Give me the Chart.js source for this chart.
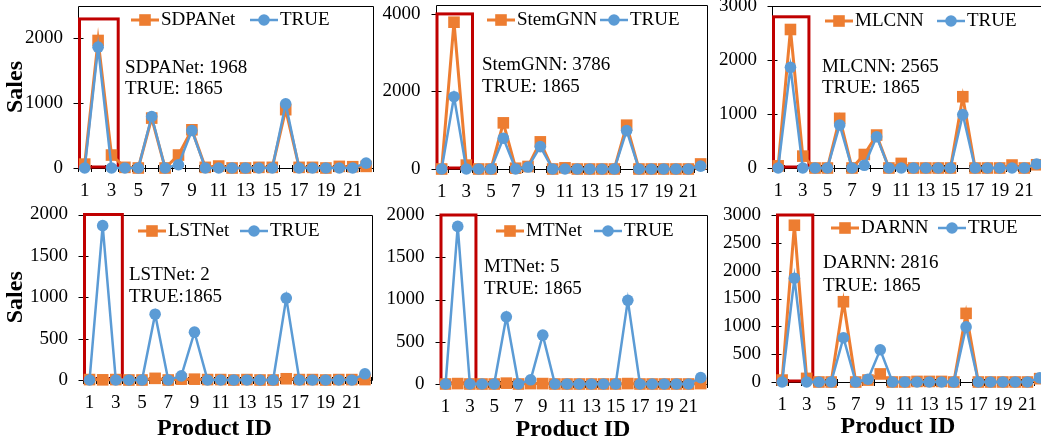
<!DOCTYPE html>
<html>
<head>
<meta charset="utf-8">
<script src="https://cdn.jsdelivr.net/npm/chart.js@4.4.1/dist/chart.umd.min.js"></script>
<style>
  html, body { margin: 0; padding: 0; background: #fff; }
  #stage { position: relative; width: 1041px; height: 444px; overflow: hidden; }
  #stage canvas { position: absolute; }
</style>
</head>
<body>
<div id="stage"></div>
<script>
// data
const PRODUCT_IDS   = ["1","2","3","4","5","6","7","8","9","10","11","12","13","14","15","16","17","18","19","20","21","22"];
const TRUE_SALES    = [0, 1865, 0, 0, 0, 795, 0, 50, 578, 0, 0, 0, 0, 0, 0, 990, 0, 0, 0, 0, 0, 75];
const SDPANET_PRED  = [60, 1968, 200, 10, 0, 770, 0, 200, 590, 10, 30, 0, 0, 10, 10, 900, 10, 10, 0, 25, 20, 25];
const STEMGNN_PRED  = [0, 3786, 100, 0, 0, 1190, 20, 65, 700, 0, 30, 0, 0, 0, 0, 1130, 0, 0, 0, 0, 0, 130];
const MLCNN_PRED    = [40, 2565, 220, 0, 0, 920, 0, 250, 610, 0, 85, 0, 0, 0, 0, 1320, 0, 0, 0, 55, 0, 60];
const LSTNET_PRED   = [5, 2, 5, 0, 0, 20, 0, 10, 10, 5, 5, 0, 5, 0, 0, 15, 5, 5, 0, 5, 5, 5];
const MTNET_PRED    = [0, 5, 0, 0, 0, 10, 0, 5, 5, 0, 0, 0, 0, 0, 0, 5, 0, 0, 0, 0, 0, 5];
const DARNN_PRED    = [35, 2816, 65, 0, 0, 1442, 0, 35, 145, 0, 0, 10, 10, 10, 0, 1233, 0, 0, 0, 0, 0, 60];

const SDPANET_Y_TICKS = [0, 1000, 2000];
const STEMGNN_Y_TICKS = [0, 2000, 4000];
const MLCNN_Y_TICKS   = [0, 1000, 2000, 3000];
const LSTNET_Y_TICKS  = [0, 500, 1000, 1500, 2000];
const MTNET_Y_TICKS   = [0, 500, 1000, 1500, 2000];
const DARNN_Y_TICKS   = [0, 500, 1000, 1500, 2000, 2500, 3000];

const ORANGE = "#ED7D31";
const BLUE   = "#5B9BD5";
const RED    = "#C00000";
const SERIF  = "'Liberation Serif', 'Times New Roman', serif";

// layout (page pixels)
const PANELS = [
    { name: "SDPANet", pred: SDPANET_PRED, yTicks: SDPANET_Y_TICKS, note: ["SDPANet: 1968", "TRUE: 1865"], yMax: 2500, boxTop: 2300,
      area: { l: 78, t: 6, r: 373, b: 168 }, origin: { x: 0, y: -25 }, rowBottom: 205,
      key: [131, 250], keyY: 20, noteAt: [125, 68, 89], sales: true },
    { name: "StemGNN", pred: STEMGNN_PRED, yTicks: STEMGNN_Y_TICKS, note: ["StemGNN: 3786", "TRUE: 1865"], yMax: 4230, boxTop: 4000,
      area: { l: 435.5, t: 5, r: 707, b: 169 }, origin: { x: 375, y: -25 }, rowBottom: 205,
      key: [487, 600], keyY: 20, noteAt: [482, 65, 87] },
    { name: "MLCNN", pred: MLCNN_PRED, yTicks: MLCNN_Y_TICKS, note: ["MLCNN: 2565", "TRUE: 1865"], yMax: 3000, boxTop: 2800,
      area: { l: 772, t: 6, r: 1043, b: 168 }, origin: { x: 712, y: -25 }, rowBottom: 205,
      key: [825, 937], keyY: 21, noteAt: [822, 67, 88] },
    { name: "LSTNet", pred: LSTNET_PRED, yTicks: LSTNET_Y_TICKS, note: ["LSTNet: 2", "TRUE:1865"], yMax: 2000, boxTop: 2000,
      area: { l: 83, t: 214.5, r: 371.5, b: 380 }, origin: { x: 0, y: 185 }, rowBottom: 444,
      key: [138, 240], keyY: 231, noteAt: [129, 275, 297], sales: true, xTitle: [214.5, 429] },
    { name: "MTNet", pred: MTNET_PRED, yTicks: MTNET_Y_TICKS, note: ["MTNet: 5", "TRUE: 1865"], yMax: 2000, boxTop: 2000,
      area: { l: 439.5, t: 215, r: 707, b: 384 }, origin: { x: 378, y: 185 }, rowBottom: 444,
      key: [496, 594], keyY: 231, noteAt: [484, 267, 289], xTitle: [573, 430] },
    { name: "DARNN", pred: DARNN_PRED, yTicks: DARNN_Y_TICKS, note: ["DARNN: 2816", "TRUE: 1865"], yMax: 3000, boxTop: 3000,
      area: { l: 776, t: 215, r: 1046, b: 382 }, origin: { x: 714, y: 185 }, rowBottom: 444,
      key: [831, 938], keyY: 228, noteAt: [823, 263, 286], xTitle: [898, 427] }
];

const panelDecor = {
    id: "panelDecor",
    beforeDatasetsDraw(chart, args, opts) {
        const { ctx, chartArea: a, scales: { x, y } } = chart;
        const half = (x.getPixelForValue(1) - x.getPixelForValue(0)) / 2;
        const y0   = Math.round(y.getPixelForValue(0)) + 0.5;
        const L    = Math.round(a.left) + 0.5;

        ctx.save();
        ctx.strokeStyle = "#000";
        ctx.lineWidth = 1;
        ctx.beginPath();
        ctx.moveTo(L, y0);
        ctx.lineTo(L, Math.round(a.top) + 0.5);
        ctx.lineTo(Math.round(a.right) + 0.5, Math.round(a.top) + 0.5);
        ctx.lineTo(Math.round(a.right) + 0.5, y0);
        ctx.lineTo(L, y0);
        // category boundary ticks
        for (let i = 0; i <= x.ticks.length; i++) {
            const px = Math.round(x.getPixelForValue(0) - half + i * 2 * half) + 0.5;
            ctx.moveTo(px, y0 - 3.5);
            ctx.lineTo(px, y0 + 3.5);
        }
        // value ticks
        y.ticks.forEach(t => {
            const py = Math.round(y.getPixelForValue(t.value)) + 0.5;
            ctx.moveTo(L - 5, py);
            ctx.lineTo(L + 5, py);
        });
        ctx.stroke();

        // highlight box round products 1..3
        ctx.strokeStyle = RED;
        ctx.lineWidth = 3;
        const bx0 = x.getPixelForValue(0) - half + 1.5;
        const bx1 = x.getPixelForValue(2) + half;
        const by0 = y.getPixelForValue(opts.boxTop);
        const by1 = y.getPixelForValue(0) - 1;
        ctx.strokeRect(bx0, by0, bx1 - bx0, by1 - by0);
        ctx.restore();
    },
    afterDraw(chart, args, opts) {
        const { ctx, chartArea: a } = chart;
        const ox = opts.origin.x, oy = opts.origin.y;
        ctx.save();
        ctx.textBaseline = "middle";
        ctx.fillStyle = "#000";

        // legend: line + marker + label
        ctx.font = `19px ${SERIF}`;
        chart.data.datasets.forEach((ds, i) => {
            const kx = opts.key[i] - ox, ky = opts.keyY - oy;
            ctx.strokeStyle = ds.borderColor;
            ctx.lineWidth = ds.borderWidth;
            ctx.beginPath();
            ctx.moveTo(kx, ky);
            ctx.lineTo(kx + 28, ky);
            ctx.stroke();
            ctx.fillStyle = ds.backgroundColor;
            if (ds.pointStyle === "rect") {
                const s = ds.pointRadius * Math.SQRT1_2;
                ctx.fillRect(kx + 14 - s, ky - s, 2 * s, 2 * s);
            } else {
                ctx.beginPath();
                ctx.arc(kx + 14, ky, ds.pointRadius, 0, Math.PI * 2);
                ctx.fill();
            }
            ctx.fillStyle = "#000";
            ctx.fillText(ds.label, kx + 30, ky);
        });

        // note
        ctx.fillText(opts.note[0], opts.noteAt[0] - ox, opts.noteAt[1] - oy);
        ctx.fillText(opts.note[1], opts.noteAt[0] - ox, opts.noteAt[2] - oy);

        // axis titles
        ctx.font = `bold 24px ${SERIF}`;
        if (opts.sales) {
            ctx.save();
            ctx.translate(16 - ox, (a.top + a.bottom) / 2);
            ctx.rotate(-Math.PI / 2);
            ctx.textAlign = "center";
            ctx.fillText("Sales", 0, 0);
            ctx.restore();
        }
        if (opts.xTitle) {
            ctx.textAlign = "center";
            ctx.fillText("Product ID", opts.xTitle[0] - ox, opts.xTitle[1] - oy);
        }
        ctx.restore();
    }
};

const stage = document.getElementById("stage");

PANELS.forEach(p => {
    const canvas = document.createElement("canvas");
    const width  = Math.ceil(p.area.r + 8 - p.origin.x);
    const height = p.rowBottom - p.origin.y;
    canvas.width  = width;
    canvas.height = height;
    canvas.style.left = p.origin.x + "px";
    canvas.style.top  = p.origin.y + "px";
    stage.appendChild(canvas);

    const yW = p.area.l - p.origin.x;
    const xH = p.rowBottom - p.area.b;

    new Chart(canvas.getContext("2d"), {
        type: "line",
        data: {
            labels: PRODUCT_IDS,
            datasets: [
                {
                    label: p.name,
                    data: p.pred,
                    borderColor: ORANGE,
                    backgroundColor: ORANGE,
                    borderWidth: 3,
                    pointStyle: "rect",
                    pointRadius: 8.2,
                    pointBorderWidth: 0,
                    tension: 0,
                    clip: false,
                    order: 1
                },
                {
                    label: "TRUE",
                    data: TRUE_SALES,
                    borderColor: BLUE,
                    backgroundColor: BLUE,
                    borderWidth: 2.5,
                    pointStyle: "circle",
                    pointRadius: 5.8,
                    pointBorderWidth: 0,
                    tension: 0,
                    clip: false,
                    order: 0
                }
            ]
        },
        options: {
            responsive: false,
            animation: false,
            devicePixelRatio: 1,
            layout: { padding: { left: 0, top: p.area.t - p.origin.y, right: width - (p.area.r - p.origin.x), bottom: 0 } },
            plugins: {
                legend: { display: false },
                tooltip: { enabled: false },
                panelDecor: p
            },
            scales: {
                x: {
                    offset: true,
                    grid: { display: false, drawTicks: false },
                    border: { display: false },
                    ticks: {
                        autoSkip: false,
                        maxRotation: 0,
                        padding: 12,
                        color: "#000",
                        font: { family: SERIF, size: 19 },
                        callback: (v, i) => (i % 2 === 0 ? PRODUCT_IDS[i] : "")
                    },
                    afterFit: s => { s.height = xH; }
                },
                y: {
                    min: 0,
                    max: p.yMax,
                    grid: { display: false, drawTicks: false },
                    border: { display: false },
                    ticks: {
                        padding: 15,
                        color: "#000",
                        font: { family: SERIF, size: 19 },
                        callback: v => String(v)
                    },
                    afterBuildTicks: s => { s.ticks = p.yTicks.map(v => ({ value: v })); },
                    afterFit: s => { s.width = yW; }
                }
            }
        },
        plugins: [panelDecor]
    });
});
</script>
</body>
</html>
